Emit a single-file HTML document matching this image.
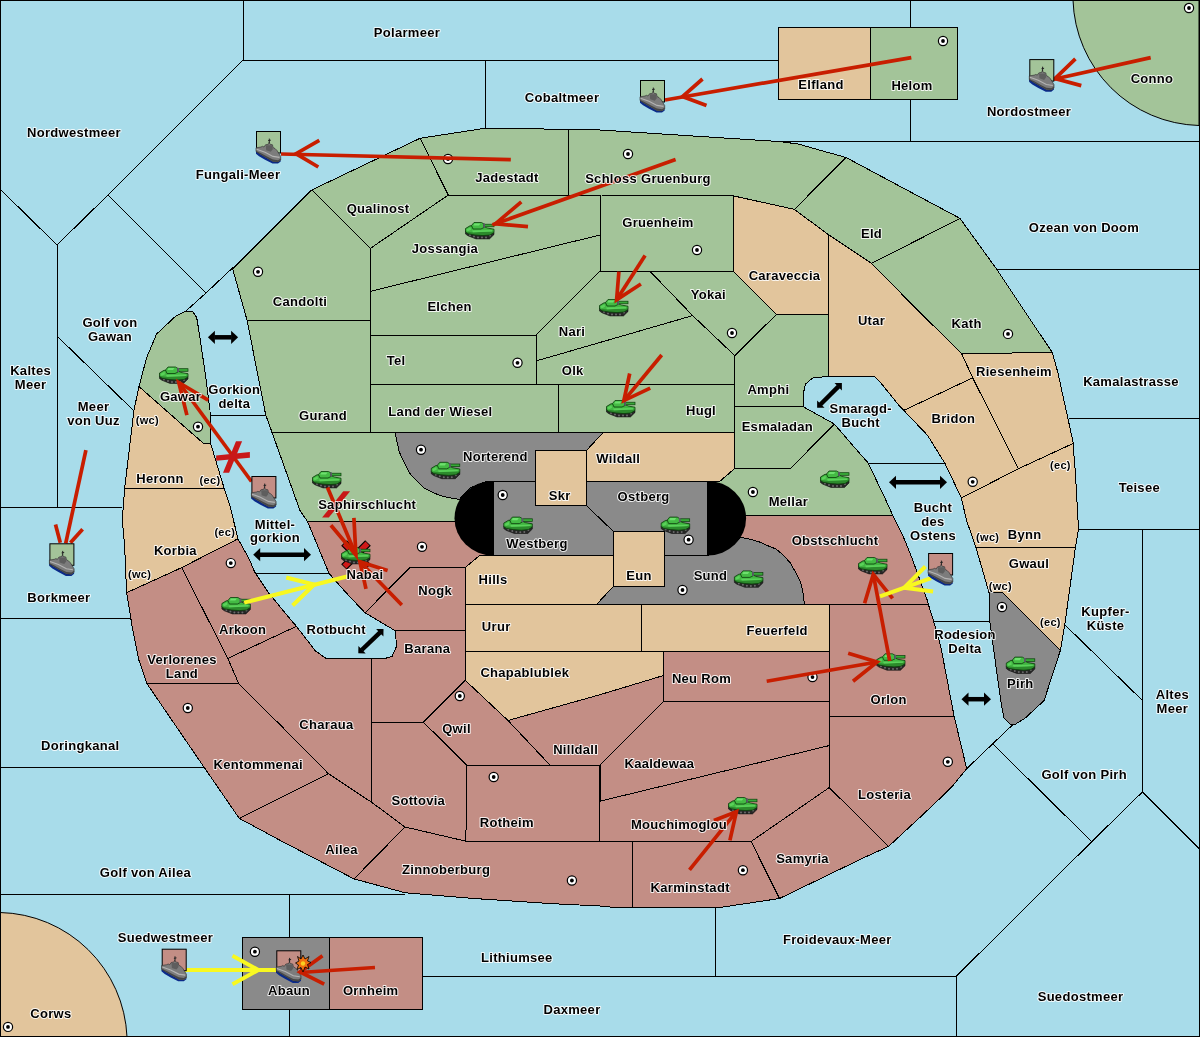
<!DOCTYPE html><html><head><meta charset="utf-8"><style>
html,body{margin:0;padding:0;background:#a8dcea;overflow:hidden}
svg{display:block;will-change:transform}
.t{font-family:"Liberation Sans",sans-serif;font-weight:bold;font-size:13px;letter-spacing:0.3px;text-anchor:middle;fill:#000;stroke:#fff;stroke-width:2px;stroke-opacity:0.85;paint-order:stroke;stroke-linejoin:round}
.c{font-family:"Liberation Sans",sans-serif;font-weight:bold;font-size:11px;letter-spacing:0.3px;text-anchor:middle;fill:#000;stroke:#fff;stroke-width:2px;stroke-opacity:0.85;paint-order:stroke;stroke-linejoin:round}
</style></head><body>
<svg width="1200" height="1037" viewBox="0 0 1200 1037">
<defs>
<g id="tank">
<polygon points="0.5,9.5 29,10.5 29,12.5 24.5,16.9 11,16.9 3,13.8 0.5,12" fill="#262626" stroke="#111" stroke-width="0.6"/>
<g fill="#6a6a6a"><circle cx="5" cy="13" r="1"/><circle cx="9" cy="14.4" r="1"/><circle cx="13" cy="15.4" r="1"/><circle cx="17" cy="15.6" r="1"/><circle cx="21" cy="15.4" r="1"/><circle cx="25" cy="13.4" r="1"/></g>
<polygon points="0.5,6.5 5,3.8 18,4 22,6 29,7.2 29,10.5 25,13 18,13.6 10,13 3,11.8 0.5,10" fill="#2c8a2c" stroke="#0b3d0b" stroke-width="0.8"/>
<polygon points="1,7 5,4.4 18,4.6 22,6.6 28.4,7.8 28.4,9.4 22,9.8 8,10.4 1,9.6" fill="#42b642"/>
<polygon points="7,8.4 27,8.1 27,9.4 8,10.2" fill="#5ad25a"/>
<polygon points="1.5,7.3 5.5,5.2 6,7.8 2.5,9.4" fill="#5ad25a"/>
<polygon points="6.5,3.5 9,0.5 16.5,0.5 19,2 19,5.5 16,7 8,7" fill="#44bb44" stroke="#0b3d0b" stroke-width="0.8"/>
<polygon points="9.5,1.4 15.5,1.4 14,3.6 8.5,3.6" fill="#6ee06e"/>
<rect x="19" y="2.2" width="10" height="2.6" fill="#38a838" stroke="#0b3d0b" stroke-width="0.7"/>
<rect x="18.2" y="1.4" width="1.8" height="4.2" fill="#5a5a66"/>
</g>
<g id="ship">
<polygon points="0,20.5 4,23 10,26.5 17,30.5 22,31 24.7,29 24.7,30.5 22,32.6 16.5,32.6 9,28.8 3,25.3 0,22.8" fill="#0a2a8a"/>
<polygon points="0,16.8 5,16 6.5,15.3 8,16 9.5,13.8 12.5,13.2 13,11.5 14,13.2 16.5,13.8 17,16.5 19,17.5 21,19.5 24.7,25.5 24.7,29 22,31 17,30.5 10,26.5 4,23 0,20.5" fill="#7c7c7c" stroke="#2a2a2a" stroke-width="0.6"/>
<polygon points="0,19.8 5,22.2 11,25.6 17,28.6 22,29.2 24.7,27.5 24.7,29 22,31 17,30.5 10,26.5 4,23 0,20.5" fill="#464646"/>
<path d="M0.6,18.2 L9,21.2 L17,25.4 L23.5,26.4" stroke="#b4b4b4" stroke-width="1.1" fill="none"/>
<polygon points="9.8,14.3 16.3,14.3 16.8,18.2 14.8,20.8 10.2,19.2" fill="#5e5e5e"/>
<path d="M13.3,12 L13.3,7.6 M12.2,9.6 L14.8,9.2" stroke="#222" stroke-width="1"/>
</g>
</defs>
<rect x="0" y="0" width="1200" height="1037" fill="#a8dcea"/>
<path d="M1073,0 A129.4,129.4 0 0 0 1199,125.5 L1199,0 Z" fill="#a3c499" stroke="#000" stroke-width="1"/>
<path d="M0,912.5 A130,130 0 0 1 127,1037 L0,1037 Z" fill="#e2c59c" stroke="#000" stroke-width="1"/>
<g stroke="#000" stroke-width="1" stroke-linejoin="round" shape-rendering="crispEdges">
<polygon points="311.7,190 420,138.3 448.3,195 370.5,248.3" fill="#a3c499"/>
<polygon points="420,138.3 485,128.3 568,129.3 568,195 448.3,195" fill="#a3c499"/>
<polygon points="568,129.3 600,130 780,141.6 798,144 846,157.5 794.4,209.4 733.5,195.9 600,195 568,195" fill="#a3c499"/>
<polygon points="232.7,269 311.7,190 370.5,248.3 370.5,320 247,320" fill="#a3c499"/>
<polygon points="370.5,248.3 448.3,195 600,195 600,235 370.5,291.3" fill="#a3c499"/>
<polygon points="370.5,291.3 600,235 600,271.3 536,335.2 370.5,335.2" fill="#a3c499"/>
<polygon points="600,195 733.5,195.9 733.5,271.3 600,271.3" fill="#a3c499"/>
<polygon points="536,335.2 600,271.3 650,271.3 692.7,315.6 536,361" fill="#a3c499"/>
<polygon points="650,271.3 733.5,271.3 776.4,314.4 734.8,355.7 692.7,315.6" fill="#a3c499"/>
<polygon points="370.5,335.2 536,335.2 536,384.6 370.5,384.6" fill="#a3c499"/>
<polygon points="536,361 692.7,315.6 734.8,355.7 734.8,384.7 536,384.7" fill="#a3c499"/>
<polygon points="370.5,384.6 558.6,384.6 558.6,432.4 370.5,432.4" fill="#a3c499"/>
<polygon points="558.6,384.7 734.8,384.7 734.8,432.4 558.6,432.4" fill="#a3c499"/>
<polygon points="247,320 370.5,320 370.5,432.4 272,432.4 269.4,425 265.7,415" fill="#a3c499"/>
<polygon points="734.8,355.7 776.4,314.4 828.3,314.4 828.3,376.5 813,377.8 805.5,384 803.5,392.8 803,406.6 734.8,406.6" fill="#a3c499"/>
<polygon points="734.8,406.6 803,406.6 834.3,424 790.5,468.5 734.8,468.5" fill="#a3c499"/>
<polygon points="734.8,468.5 790.5,468.5 834.3,424 850.6,443 868.2,463 885.8,500 892.6,515 745,515 707.6,515 707.6,481 720.2,481" fill="#a3c499"/>
<polygon points="846,157.5 960,218.4 871.5,263.4 828.3,234.6 794.4,209.4" fill="#a3c499"/>
<polygon points="960,218.4 996.5,269 1052.4,352.7 961.5,353.4 918,310.5 871.5,263.4" fill="#a3c499"/>
<polygon points="272,432.4 395.4,432.4 396.9,441.1 399.3,451.9 403.9,462 409.3,472.8 415.5,479.7 424,487.8 433.2,492.8 444,496.7 459.4,499.4 493,499 493,521.6 454,521.6 307.6,521.6 300,510.6" fill="#a3c499"/>
<polygon points="185.5,311.4 193,312 196.7,317.6 199.2,332.7 205.5,375.3 210,410.4 210.5,443 203,443 139,386.6 146.6,357.7 156.6,334 175.4,316.4" fill="#a3c499"/>
<polygon points="733.5,195.9 794.4,209.4 828.3,234.6 828.3,314.4 776.4,314.4 733.5,271.3" fill="#e2c59c"/>
<polygon points="828.3,234.6 871.5,263.4 918,310.5 961.5,353.4 972.7,377.8 903.8,410.4 900,406.6 880.7,382.8 874.4,376.5 828.3,376.5" fill="#e2c59c"/>
<polygon points="961.5,353.4 1052.4,352.7 1057.9,372.8 1073,441.7 1073,443.5 1018.3,468.8 972.7,377.8" fill="#e2c59c"/>
<polygon points="903.8,410.4 972.7,377.8 1018.3,468.8 961.4,498 945,463.5 927.6,435.4" fill="#e2c59c"/>
<polygon points="961.4,498 1018.3,468.8 1073,443.5 1075.4,473 1078,520 1078.4,529.3 1075.4,547.6 976,547.6 966.4,520" fill="#e2c59c"/>
<polygon points="976,547.6 1075.4,547.6 1065.4,620.3 1060.4,650.3 1002.8,592.7 989,592.7" fill="#e2c59c"/>
<polygon points="139,386.6 203,443 210.5,443 224.3,488.8 124.6,488.8 134,410" fill="#e2c59c"/>
<polygon points="124.6,488.8 224.3,488.8 230,505.9 238,538.8 181.7,567.6 126.6,592.7 124.6,545 122.3,520" fill="#e2c59c"/>
<polygon points="603,432.7 734.8,432.7 734.8,468.5 720.2,481 586.3,481 586.3,450.7" fill="#e2c59c"/>
<polygon points="465.3,567.5 479.6,555.5 613.5,555.5 613.5,586.2 596.7,604.3 465.3,604.3" fill="#e2c59c"/>
<polygon points="465.3,604.3 641.4,604.3 641.4,651 465.3,651" fill="#e2c59c"/>
<polygon points="465.3,651 663.9,651 663.9,675.4 600,694.7 508,720.5 465.3,680.4" fill="#e2c59c"/>
<polygon points="535,450.7 586.3,450.7 586.3,505.5 535,505.5" fill="#e2c59c"/>
<polygon points="613.5,531.5 664.2,531.5 664.2,586.2 613.5,586.2" fill="#e2c59c"/>
<polygon points="641.4,604.3 829.2,604.3 829.2,651 641.4,651" fill="#e2c59c"/>
<polygon points="307.6,521.6 454,521.6 493,521.6 493,555.5 479.6,555.5 465.3,567.5 410,567.5 365,612.8 345.9,592.5 329,573.4" fill="#c38e85"/>
<polygon points="410,567.5 465.3,567.5 465.3,630.8 395.4,630.8 365,612.8" fill="#c38e85"/>
<polygon points="395.4,630.8 465.3,630.8 465.3,680.4 423.4,722.2 371.8,722.2 371.8,658.9 383,658.9 392,656.6 396.5,646.5" fill="#c38e85"/>
<polygon points="465.3,680.4 508,720.5 549.9,765 466.7,765 423.4,722.2" fill="#c38e85"/>
<polygon points="508,720.5 600,694.7 663.9,675.4 663.9,701 600,765 549.9,765" fill="#c38e85"/>
<polygon points="600,765 663.9,701 829.2,701 829.2,745.6 600,801.3" fill="#c38e85"/>
<polygon points="663.9,651 829.2,651 829.2,701 663.9,701" fill="#c38e85"/>
<polygon points="466.7,765 599.5,765 599.5,841.2 465.9,841.2" fill="#c38e85"/>
<polygon points="599.5,801.3 829.2,745.6 829.2,787.6 751.1,841.5 599.5,841.5" fill="#c38e85"/>
<polygon points="632.6,841.5 751.1,841.5 779.5,898.5 717.8,907.8 642.6,907.8 632.6,907.5" fill="#c38e85"/>
<polygon points="354,878.9 405,827 465.9,841.2 632.6,841.5 632.6,907.5 612.5,907.3 600,906 550.6,903.6 475.4,898.6 405.3,892.8" fill="#c38e85"/>
<polygon points="751.1,841.5 829.2,787.6 888.6,846.4 864.2,857.5 779.5,898.5" fill="#c38e85"/>
<polygon points="829.2,716.2 954.1,716.2 966.7,768.7 953,785.4 940.8,797.6 919.7,817.6 888.6,846.4 829.2,787.6" fill="#c38e85"/>
<polygon points="829.2,604.3 928.3,604.3 933.1,619.6 940.8,646.6 954.1,716.2 829.2,716.2" fill="#c38e85"/>
<polygon points="707.6,515 745,515 892.6,515 904.1,538.6 911.9,557.9 927.3,600.3 928.3,604.3 804.4,604.3 802.9,591.7 800.6,582.5 796,573.2 790.6,563.2 782.8,554.7 775.9,548.9 769.7,546.6 760.5,542.3 750.4,539.3 740.8,537.3 707.6,537.3" fill="#c38e85"/>
<polygon points="371.8,722.2 423.4,722.2 466.7,765 465.9,841.2 405,827 371.8,802.4" fill="#c38e85"/>
<polygon points="238.6,683.4 227.8,658.4 296.4,626.3 315.5,651 326.8,658.9 371.8,658.9 371.8,802.4 328.4,773.7 283.1,727.8" fill="#c38e85"/>
<polygon points="181.7,567.6 238,538.8 249.1,558.8 254.8,572.3 268.3,592.5 289.6,618.4 296.4,626.3 227.8,658.4" fill="#c38e85"/>
<polygon points="126.6,592.7 181.7,567.6 227.8,658.4 238.6,683.4 147.1,683.9 139,660.4 132.8,630.3" fill="#c38e85"/>
<polygon points="147.1,683.9 238.6,683.4 283.1,727.8 328.4,773.7 239.2,818.3 205.2,768.9" fill="#c38e85"/>
<polygon points="239.2,818.3 328.4,773.7 371.8,802.4 405,827 354,878.9 281.7,841.2" fill="#c38e85"/>
<polygon points="395,432.4 603,432.7 586.3,450.7 535,450.7 535,481 487.5,481 470,488 459.4,499.4 444,496.7 433.2,492.8 424,487.8 415.5,479.7 409.3,472.8 403.9,462 399.3,451.9 396.9,441.1" fill="#8a8a8a"/>
<polygon points="664.2,555.5 707.6,555.5 725,550 740.8,537.3 750.4,539.3 760.5,542.3 769.7,546.6 775.9,548.9 782.8,554.7 790.6,563.2 796,573.2 800.6,582.5 802.9,591.7 804.4,604.3 596.7,604.3 613.5,586.2 664.2,586.2" fill="#8a8a8a"/>
<polygon points="989,592.7 1002.8,592.7 1060.4,650.3 1044.1,700.5 1025.3,718 1015.3,724.3 1010.3,724.3 1004,718 1001.5,705.5 996.5,670.4 989.7,620.3" fill="#8a8a8a"/>
<polygon points="493,481 535,481 535,505.5 586.3,505.5 613.5,531.5 613.5,555.5 493,555.5" fill="#8a8a8a"/>
<polygon points="586.3,481 707.6,481 707.6,555.5 664.2,555.5 664.2,531.5 613.5,531.5 586.3,505.5" fill="#8a8a8a"/>
</g>
<path d="M493,481 A38.5,37.25 0 0 0 493,555.5 Z" fill="#000"/>
<path d="M707.6,481 A38.5,37.25 0 0 1 707.6,555.5 Z" fill="#000"/>
<g fill="none" stroke="#000" stroke-width="1" shape-rendering="crispEdges">
<polyline points="243,0 243,60 778,60"/>
<polyline points="243,60 108,195 57,245"/>
<polyline points="0,189 57,245 57,507"/>
<polyline points="108,195 206,293"/>
<polyline points="185.5,311.4 206,293 233,267.5"/>
<polyline points="485,60 485,128.3"/>
<polyline points="910.5,0 910.5,141"/>
<polyline points="780,141.3 1199,141.3"/>
<polyline points="996.5,269.3 1199,269.3"/>
<polyline points="1069,418.4 1199,418.4"/>
<polyline points="1078.4,529.3 1199,529.3"/>
<polyline points="1142.4,529.3 1142.4,792"/>
<polyline points="1065.4,625.3 1142.4,700.5"/>
<polyline points="1091.7,841.7 1142.4,792 1199,848.4"/>
<polyline points="1013,724.5 992.7,743.8 966.7,768.7"/>
<polyline points="992.7,743.8 1091.7,841.7 956.4,976.2 956.4,1036"/>
<polyline points="422,976.2 956.4,976.2"/>
<polyline points="715.8,907.8 715.8,976.2"/>
<polyline points="0,894.8 405,894.8"/>
<polyline points="289.5,894.8 289.5,1036"/>
<polyline points="0,767.5 205.2,767.5"/>
<polyline points="0,618.2 131,618.2"/>
<polyline points="0,507 122.3,507"/>
<polyline points="57,336 134,411"/>
<polyline points="210.5,415.4 265.7,415.4"/>
<polyline points="254.8,573.4 329,573.4"/>
<polyline points="868.2,463.3 945,463.3"/>
<polyline points="934,621.5 989.7,621.5"/>
</g>
<rect x="778" y="27" width="92.0" height="72.0" fill="#e2c59c" stroke="#000" stroke-width="1" shape-rendering="crispEdges"/>
<rect x="870" y="27" width="87.6" height="72.0" fill="#a3c499" stroke="#000" stroke-width="1" shape-rendering="crispEdges"/>
<rect x="242.4" y="937.4" width="87.2" height="71.9" fill="#8a8a8a" stroke="#000" stroke-width="1" shape-rendering="crispEdges"/>
<rect x="329.6" y="937.4" width="92.4" height="71.9" fill="#c38e85" stroke="#000" stroke-width="1" shape-rendering="crispEdges"/>
<rect x="0.5" y="0.5" width="1199" height="1036" fill="none" stroke="#000" stroke-width="1"/>
<circle cx="943" cy="41" r="4.6" fill="#fff" stroke="#000" stroke-width="1.2"/><circle cx="943" cy="41" r="1.9" fill="#000"/>
<circle cx="1189" cy="8" r="4.6" fill="#fff" stroke="#000" stroke-width="1.2"/><circle cx="1189" cy="8" r="1.9" fill="#000"/>
<circle cx="448" cy="159" r="4.6" fill="#fff" stroke="#000" stroke-width="1.2"/><circle cx="448" cy="159" r="1.9" fill="#000"/>
<circle cx="628" cy="154" r="4.6" fill="#fff" stroke="#000" stroke-width="1.2"/><circle cx="628" cy="154" r="1.9" fill="#000"/>
<circle cx="697" cy="250" r="4.6" fill="#fff" stroke="#000" stroke-width="1.2"/><circle cx="697" cy="250" r="1.9" fill="#000"/>
<circle cx="258" cy="271.8" r="4.6" fill="#fff" stroke="#000" stroke-width="1.2"/><circle cx="258" cy="271.8" r="1.9" fill="#000"/>
<circle cx="732" cy="333" r="4.6" fill="#fff" stroke="#000" stroke-width="1.2"/><circle cx="732" cy="333" r="1.9" fill="#000"/>
<circle cx="517.5" cy="362.8" r="4.6" fill="#fff" stroke="#000" stroke-width="1.2"/><circle cx="517.5" cy="362.8" r="1.9" fill="#000"/>
<circle cx="1008" cy="333.9" r="4.6" fill="#fff" stroke="#000" stroke-width="1.2"/><circle cx="1008" cy="333.9" r="1.9" fill="#000"/>
<circle cx="198" cy="426.7" r="4.6" fill="#fff" stroke="#000" stroke-width="1.2"/><circle cx="198" cy="426.7" r="1.9" fill="#000"/>
<circle cx="421" cy="449.7" r="4.6" fill="#fff" stroke="#000" stroke-width="1.2"/><circle cx="421" cy="449.7" r="1.9" fill="#000"/>
<circle cx="502.7" cy="495" r="4.6" fill="#fff" stroke="#000" stroke-width="1.2"/><circle cx="502.7" cy="495" r="1.9" fill="#000"/>
<circle cx="688.6" cy="539.7" r="4.6" fill="#fff" stroke="#000" stroke-width="1.2"/><circle cx="688.6" cy="539.7" r="1.9" fill="#000"/>
<circle cx="752.9" cy="492" r="4.6" fill="#fff" stroke="#000" stroke-width="1.2"/><circle cx="752.9" cy="492" r="1.9" fill="#000"/>
<circle cx="972.7" cy="481.8" r="4.6" fill="#fff" stroke="#000" stroke-width="1.2"/><circle cx="972.7" cy="481.8" r="1.9" fill="#000"/>
<circle cx="422" cy="546.8" r="4.6" fill="#fff" stroke="#000" stroke-width="1.2"/><circle cx="422" cy="546.8" r="1.9" fill="#000"/>
<circle cx="230.8" cy="563.1" r="4.6" fill="#fff" stroke="#000" stroke-width="1.2"/><circle cx="230.8" cy="563.1" r="1.9" fill="#000"/>
<circle cx="682.5" cy="590" r="4.6" fill="#fff" stroke="#000" stroke-width="1.2"/><circle cx="682.5" cy="590" r="1.9" fill="#000"/>
<circle cx="1002" cy="607" r="4.6" fill="#fff" stroke="#000" stroke-width="1.2"/><circle cx="1002" cy="607" r="1.9" fill="#000"/>
<circle cx="812.5" cy="677.1" r="4.6" fill="#fff" stroke="#000" stroke-width="1.2"/><circle cx="812.5" cy="677.1" r="1.9" fill="#000"/>
<circle cx="459.8" cy="696" r="4.6" fill="#fff" stroke="#000" stroke-width="1.2"/><circle cx="459.8" cy="696" r="1.9" fill="#000"/>
<circle cx="187.8" cy="708" r="4.6" fill="#fff" stroke="#000" stroke-width="1.2"/><circle cx="187.8" cy="708" r="1.9" fill="#000"/>
<circle cx="947.8" cy="761.8" r="4.6" fill="#fff" stroke="#000" stroke-width="1.2"/><circle cx="947.8" cy="761.8" r="1.9" fill="#000"/>
<circle cx="493.7" cy="777" r="4.6" fill="#fff" stroke="#000" stroke-width="1.2"/><circle cx="493.7" cy="777" r="1.9" fill="#000"/>
<circle cx="571.9" cy="880.5" r="4.6" fill="#fff" stroke="#000" stroke-width="1.2"/><circle cx="571.9" cy="880.5" r="1.9" fill="#000"/>
<circle cx="742.9" cy="870.2" r="4.6" fill="#fff" stroke="#000" stroke-width="1.2"/><circle cx="742.9" cy="870.2" r="1.9" fill="#000"/>
<circle cx="254.9" cy="951.7" r="4.6" fill="#fff" stroke="#000" stroke-width="1.2"/><circle cx="254.9" cy="951.7" r="1.9" fill="#000"/>
<circle cx="8" cy="1026.9" r="4.6" fill="#fff" stroke="#000" stroke-width="1.2"/><circle cx="8" cy="1026.9" r="1.9" fill="#000"/>
<g stroke-linecap="butt"><path d="M344,543 L368,567 M368,543 L344,567" stroke="#000" stroke-width="8"/><path d="M344.5,543.5 L367.5,566.5 M367.5,543.5 L344.5,566.5" stroke="#d01818" stroke-width="5.5"/></g>
<use href="#tank" x="465" y="222"/>
<use href="#tank" x="599" y="299"/>
<use href="#tank" x="606" y="400"/>
<use href="#tank" x="820" y="470.5"/>
<use href="#tank" x="159" y="366.5"/>
<use href="#tank" x="430.8" y="461.8"/>
<use href="#tank" x="312" y="471"/>
<use href="#tank" x="503.3" y="516.6"/>
<use href="#tank" x="660.7" y="516.6"/>
<use href="#tank" x="733.9" y="570.4"/>
<use href="#tank" x="341" y="547"/>
<use href="#tank" x="221.4" y="597"/>
<use href="#tank" x="858" y="557"/>
<use href="#tank" x="876" y="653.3"/>
<use href="#tank" x="1005.8" y="656.6"/>
<use href="#tank" x="728" y="797"/>
<line x1="214.4" y1="337.3" x2="231.6" y2="337.3" stroke="#000" stroke-width="4.5"/><polygon points="238.1,337.3 231.1,343.9 231.1,330.7" fill="#000"/><polygon points="207.9,337.3 214.9,343.9 214.9,330.7" fill="#000"/>
<line x1="259.7" y1="554.7" x2="304.5" y2="554.7" stroke="#000" stroke-width="4.5"/><polygon points="311.0,554.7 304.0,561.3 304.0,548.1" fill="#000"/><polygon points="253.2,554.7 260.2,561.3 260.2,548.1" fill="#000"/>
<line x1="361.7" y1="650.0" x2="380.1" y2="632.3" stroke="#000" stroke-width="4.5"/><polygon points="383.5,629.0 383.4,636.4 376.1,628.9" fill="#000"/><polygon points="358.3,653.3 365.7,653.4 358.4,645.9" fill="#000"/>
<line x1="820.4" y1="404.5" x2="838.6" y2="386.4" stroke="#000" stroke-width="4.5"/><polygon points="841.9,383.1 841.9,390.5 834.5,383.1" fill="#000"/><polygon points="817.1,407.8 824.5,407.8 817.1,400.4" fill="#000"/>
<line x1="895.5" y1="482.3" x2="940.5" y2="482.3" stroke="#000" stroke-width="4.5"/><polygon points="947.0,482.3 940.0,488.9 940.0,475.7" fill="#000"/><polygon points="889.0,482.3 896.0,488.9 896.0,475.7" fill="#000"/>
<line x1="968.0" y1="699.2" x2="984.5" y2="699.2" stroke="#000" stroke-width="4.5"/><polygon points="991.0,699.2 984.0,705.8 984.0,692.6" fill="#000"/><polygon points="961.5,699.2 968.5,705.8 968.5,692.6" fill="#000"/>
<polyline points="510.8,159.6 281,154" fill="none" stroke="#c81e00" stroke-width="3.7" stroke-linejoin="miter" stroke-linecap="butt"/>
<polyline points="319.3,140.3 296,153.7 318.3,167" fill="none" stroke="#c81e00" stroke-width="3.7" stroke-linejoin="miter" stroke-linecap="butt"/>
<polyline points="911.3,57.6 665,100" fill="none" stroke="#c81e00" stroke-width="3.7" stroke-linejoin="miter" stroke-linecap="butt"/>
<polyline points="702.5,79 682.5,96.5 706.5,105.5" fill="none" stroke="#c81e00" stroke-width="3.7" stroke-linejoin="miter" stroke-linecap="butt"/>
<polyline points="1150.7,57.6 1053.8,79.2" fill="none" stroke="#c81e00" stroke-width="3.7" stroke-linejoin="miter" stroke-linecap="butt"/>
<polyline points="1075.4,58.8 1055,78.6 1081.3,85.6" fill="none" stroke="#c81e00" stroke-width="3.7" stroke-linejoin="miter" stroke-linecap="butt"/>
<polyline points="675.6,159.6 492.6,224.8" fill="none" stroke="#c81e00" stroke-width="3.7" stroke-linejoin="miter" stroke-linecap="butt"/>
<polyline points="521.3,201.8 495.5,223.8 528,226.7" fill="none" stroke="#c81e00" stroke-width="3.7" stroke-linejoin="miter" stroke-linecap="butt"/>
<polyline points="645.1,255.4 616.6,299.8" fill="none" stroke="#c81e00" stroke-width="3.7" stroke-linejoin="miter" stroke-linecap="butt"/>
<polyline points="618.9,271.6 616.6,299.8 640.9,284" fill="none" stroke="#c81e00" stroke-width="3.7" stroke-linejoin="miter" stroke-linecap="butt"/>
<polyline points="661.7,355 623.9,400.6" fill="none" stroke="#c81e00" stroke-width="3.7" stroke-linejoin="miter" stroke-linecap="butt"/>
<polyline points="629.7,373.5 623.9,400.6 650.2,388.2" fill="none" stroke="#c81e00" stroke-width="3.7" stroke-linejoin="miter" stroke-linecap="butt"/>
<polyline points="251.5,481.5 178.8,382.5" fill="none" stroke="#c81e00" stroke-width="3.7" stroke-linejoin="miter" stroke-linecap="butt"/>
<polyline points="186.9,415.1 178.8,382.5 208.2,400.1" fill="none" stroke="#c81e00" stroke-width="3.7" stroke-linejoin="miter" stroke-linecap="butt"/>
<polyline points="85.9,450.1 65.7,543.4" fill="none" stroke="#c81e00" stroke-width="3.7" stroke-linejoin="miter" stroke-linecap="butt"/>
<polyline points="55.5,524.5 60.3,542.7" fill="none" stroke="#c81e00" stroke-width="3.7" stroke-linejoin="miter" stroke-linecap="butt"/>
<polyline points="82.6,529.2 70.4,542.7" fill="none" stroke="#c81e00" stroke-width="3.7" stroke-linejoin="miter" stroke-linecap="butt"/>
<polyline points="327.5,487.5 355.9,555" fill="none" stroke="#c81e00" stroke-width="3.7" stroke-linejoin="miter" stroke-linecap="butt"/>
<polyline points="330.9,525.3 355.9,555 353.9,517.9" fill="none" stroke="#c81e00" stroke-width="3.7" stroke-linejoin="miter" stroke-linecap="butt"/>
<polyline points="401.8,605 359.9,561.8" fill="none" stroke="#c81e00" stroke-width="3.7" stroke-linejoin="miter" stroke-linecap="butt"/>
<polyline points="366,588.8 359.9,561.8 387.6,570.5" fill="none" stroke="#c81e00" stroke-width="3.7" stroke-linejoin="miter" stroke-linecap="butt"/>
<polyline points="766.7,681.2 877.1,662" fill="none" stroke="#c81e00" stroke-width="3.7" stroke-linejoin="miter" stroke-linecap="butt"/>
<polyline points="848.2,653.3 877.1,662 853,681.3" fill="none" stroke="#c81e00" stroke-width="3.7" stroke-linejoin="miter" stroke-linecap="butt"/>
<polyline points="889.7,661 873.3,574.3" fill="none" stroke="#c81e00" stroke-width="3.7" stroke-linejoin="miter" stroke-linecap="butt"/>
<polyline points="864.6,603.2 873.3,574.3 892.6,598.4" fill="none" stroke="#c81e00" stroke-width="3.7" stroke-linejoin="miter" stroke-linecap="butt"/>
<polyline points="689.5,869.9 736.4,811.7" fill="none" stroke="#c81e00" stroke-width="3.7" stroke-linejoin="miter" stroke-linecap="butt"/>
<polyline points="713.9,820.4 736.4,811.7 729.9,840.3" fill="none" stroke="#c81e00" stroke-width="3.7" stroke-linejoin="miter" stroke-linecap="butt"/>
<polyline points="244.2,602.6 348,576.3" fill="none" stroke="#f8f820" stroke-width="4.0" stroke-linejoin="miter" stroke-linecap="butt"/>
<polyline points="286.2,577.5 314.2,584.5 292.6,605.5" fill="none" stroke="#f8f820" stroke-width="4.0" stroke-linejoin="miter" stroke-linecap="butt"/>
<polyline points="931.1,578.1 880,596.4" fill="none" stroke="#f8f820" stroke-width="4.0" stroke-linejoin="miter" stroke-linecap="butt"/>
<polyline points="925.4,566.5 904.1,587.8 933.1,591.6" fill="none" stroke="#f8f820" stroke-width="4.0" stroke-linejoin="miter" stroke-linecap="butt"/>
<polyline points="185,970 276,970" fill="none" stroke="#f8f820" stroke-width="4.0" stroke-linejoin="miter" stroke-linecap="butt"/>
<polyline points="232.5,955.8 258.3,970 232.5,984.2" fill="none" stroke="#f8f820" stroke-width="4.0" stroke-linejoin="miter" stroke-linecap="butt"/>
<polygon points="216.1,455.4 249.9,452.1 249.9,457.8 216.1,460.8" fill="#c81818"/>
<polygon points="223,472.8 229.1,472.8 242.1,441.3 236,441.3" fill="#c81818"/>
<polygon points="322.1,517.6 328.8,517.6 350.1,491.3 343.3,491.3" fill="#c81818"/>
<rect x="256.5" y="131.5" width="24" height="21.5" fill="#a3c499" stroke="#000" stroke-width="1"/>
<use href="#ship" x="256" y="131"/>
<rect x="640.5" y="80.5" width="24" height="21.5" fill="#a3c499" stroke="#000" stroke-width="1"/>
<use href="#ship" x="640" y="80"/>
<rect x="1029.8" y="59.6" width="24" height="21.5" fill="#a3c499" stroke="#000" stroke-width="1"/>
<use href="#ship" x="1029.3" y="59.1"/>
<rect x="49.9" y="543.8" width="24" height="21.5" fill="#a3c499" stroke="#000" stroke-width="1"/>
<use href="#ship" x="49.4" y="543.3"/>
<rect x="251.9" y="476.5" width="24" height="21.5" fill="#c38e85" stroke="#000" stroke-width="1"/>
<use href="#ship" x="251.4" y="476"/>
<rect x="928.6" y="553.5" width="24" height="21.5" fill="#c38e85" stroke="#000" stroke-width="1"/>
<use href="#ship" x="928.1" y="553"/>
<rect x="162.2" y="949.2" width="24" height="21.5" fill="#c38e85" stroke="#000" stroke-width="1"/>
<use href="#ship" x="161.7" y="948.7"/>
<rect x="276.8" y="950.8" width="24" height="21.5" fill="#c38e85" stroke="#000" stroke-width="1"/>
<use href="#ship" x="276.3" y="950.3"/>
<polyline points="375,967.5 300,972.5" fill="none" stroke="#c81e00" stroke-width="3.7" stroke-linejoin="miter" stroke-linecap="butt"/>
<polyline points="322.5,955.8 300,972 324.2,984.2" fill="none" stroke="#c81e00" stroke-width="3.7" stroke-linejoin="miter" stroke-linecap="butt"/>
<polygon points="303,955 305,959 309,956.5 307.5,961 311,962.5 307.5,964.5 309,969 305,967 303,972 301,967.5 297,969.5 298.5,965 295.5,963 299,961 297.5,956.5 301,959" fill="#f07010" stroke="#000" stroke-width="0.8"/>
<circle cx="303" cy="963.5" r="2.2" fill="#f8d020"/>
<text x="407" y="37.3" class="t">Polarmeer</text>
<text x="562" y="101.7" class="t">Cobaltmeer</text>
<text x="74" y="137.1" class="t">Nordwestmeer</text>
<text x="238" y="178.7" class="t">Fungali-Meer</text>
<text x="1029" y="116.2" class="t">Nordostmeer</text>
<text x="1152" y="82.7" class="t">Conno</text>
<text x="1084" y="231.7" class="t">Ozean von Doom</text>
<text x="110" y="327.4" class="t">Golf von</text>
<text x="110" y="341.2" class="t">Gawan</text>
<text x="30.6" y="375.0" class="t">Kaltes</text>
<text x="30.6" y="388.8" class="t">Meer</text>
<text x="93.5" y="411.3" class="t">Meer</text>
<text x="93.5" y="425.1" class="t">von Uuz</text>
<text x="234.3" y="394.3" class="t">Gorkion</text>
<text x="234.3" y="408.1" class="t">delta</text>
<text x="1131" y="385.5" class="t">Kamalastrasse</text>
<text x="1139.3" y="491.5" class="t">Teisee</text>
<text x="860.7" y="413.3" class="t">Smaragd-</text>
<text x="860.7" y="427.1" class="t">Bucht</text>
<text x="933" y="512.4" class="t">Bucht</text>
<text x="933" y="526.2" class="t">des</text>
<text x="933" y="540.0" class="t">Ostens</text>
<text x="275" y="528.6" class="t">Mittel-</text>
<text x="275" y="542.4" class="t">gorkion</text>
<text x="58.9" y="602.4" class="t">Borkmeer</text>
<text x="336.2" y="634.3" class="t">Rotbucht</text>
<text x="1105.5" y="616.2" class="t">Kupfer-</text>
<text x="1105.5" y="630.0" class="t">Küste</text>
<text x="965" y="639.1" class="t">Rodesion</text>
<text x="965" y="652.9" class="t">Delta</text>
<text x="1172.4" y="699.4" class="t">Altes</text>
<text x="1172.4" y="713.2" class="t">Meer</text>
<text x="80.2" y="750.3" class="t">Doringkanal</text>
<text x="1084.2" y="779.1" class="t">Golf von Pirh</text>
<text x="145.4" y="876.9" class="t">Golf von Ailea</text>
<text x="165.4" y="942.1" class="t">Suedwestmeer</text>
<text x="516.8" y="962.2" class="t">Lithiumsee</text>
<text x="837.3" y="944.1" class="t">Froidevaux-Meer</text>
<text x="1080.5" y="1001.0" class="t">Suedostmeer</text>
<text x="572" y="1013.7" class="t">Daxmeer</text>
<text x="50.9" y="1018.0" class="t">Corws</text>
<text x="821" y="88.7" class="t">Elfland</text>
<text x="912" y="89.7" class="t">Helom</text>
<text x="507" y="181.7" class="t">Jadestadt</text>
<text x="648" y="182.7" class="t">Schloss Gruenburg</text>
<text x="378" y="212.7" class="t">Qualinost</text>
<text x="658" y="226.7" class="t">Gruenheim</text>
<text x="871.5" y="238.1" class="t">Eld</text>
<text x="445" y="252.7" class="t">Jossangia</text>
<text x="784.5" y="280.1" class="t">Caraveccia</text>
<text x="300" y="306.2" class="t">Candolti</text>
<text x="708.3" y="299.0" class="t">Yokai</text>
<text x="449.6" y="311.1" class="t">Elchen</text>
<text x="871.5" y="325.1" class="t">Utar</text>
<text x="966.6" y="327.8" class="t">Kath</text>
<text x="572" y="336.1" class="t">Nari</text>
<text x="396" y="365.0" class="t">Tel</text>
<text x="572.7" y="375.0" class="t">Olk</text>
<text x="1014" y="376.2" class="t">Riesenheim</text>
<text x="768.4" y="394.3" class="t">Amphi</text>
<text x="180.5" y="401.3" class="t">Gawar</text>
<text x="701" y="415.1" class="t">Hugl</text>
<text x="440.4" y="415.7" class="t">Land der Wiesel</text>
<text x="323" y="419.7" class="t">Gurand</text>
<text x="953.4" y="423.1" class="t">Bridon</text>
<text x="777.3" y="431.0" class="t">Esmaladan</text>
<text x="495.4" y="461.1" class="t">Norterend</text>
<text x="618.3" y="462.7" class="t">Wildall</text>
<text x="160" y="483.2" class="t">Heronn</text>
<text x="559.7" y="499.7" class="t">Skr</text>
<text x="643.6" y="500.7" class="t">Ostberg</text>
<text x="788.4" y="506.3" class="t">Mellar</text>
<text x="367.2" y="508.8" class="t">Saphirschlucht</text>
<text x="537" y="548.3" class="t">Westberg</text>
<text x="175.4" y="555.3" class="t">Korbia</text>
<text x="1024.6" y="538.5" class="t">Bynn</text>
<text x="1029" y="568.1" class="t">Gwaul</text>
<text x="835" y="545.3" class="t">Obstschlucht</text>
<text x="365" y="579.2" class="t">Nabai</text>
<text x="493.1" y="584.1" class="t">Hills</text>
<text x="638.9" y="579.5" class="t">Eun</text>
<text x="710.5" y="579.8" class="t">Sund</text>
<text x="435.2" y="595.2" class="t">Nogk</text>
<text x="496.2" y="631.2" class="t">Urur</text>
<text x="777.2" y="635.0" class="t">Feuerfeld</text>
<text x="242.6" y="634.2" class="t">Arkoon</text>
<text x="427.3" y="653.4" class="t">Barana</text>
<text x="182" y="664.4" class="t">Verlorenes</text>
<text x="182" y="678.2" class="t">Land</text>
<text x="524.8" y="676.8" class="t">Chapablublek</text>
<text x="701.5" y="683.3" class="t">Neu Rom</text>
<text x="1020.3" y="688.1" class="t">Pirh</text>
<text x="888.6" y="703.6" class="t">Orlon</text>
<text x="326.4" y="729.3" class="t">Charaua</text>
<text x="456.5" y="732.9" class="t">Qwil</text>
<text x="575.7" y="754.0" class="t">Nilldall</text>
<text x="659.4" y="768.3" class="t">Kaaldewaa</text>
<text x="258.2" y="769.4" class="t">Kentommenai</text>
<text x="884.6" y="799.0" class="t">Losteria</text>
<text x="418.3" y="805.4" class="t">Sottovia</text>
<text x="506.8" y="827.3" class="t">Rotheim</text>
<text x="679" y="829.3" class="t">Mouchimoglou</text>
<text x="341.6" y="854.4" class="t">Ailea</text>
<text x="802.5" y="863.2" class="t">Samyria</text>
<text x="446.1" y="873.7" class="t">Zinnoberburg</text>
<text x="690.2" y="892.0" class="t">Karminstadt</text>
<text x="289" y="994.7" class="t">Abaun</text>
<text x="370.7" y="995.2" class="t">Ornheim</text>
<text x="147.4" y="423.6" class="c">(wc)</text>
<text x="210" y="483.8" class="c">(ec)</text>
<text x="224.8" y="535.8" class="c">(ec)</text>
<text x="139.6" y="578.4" class="c">(wc)</text>
<text x="1060.4" y="468.8" class="c">(ec)</text>
<text x="987.7" y="541.0" class="c">(wc)</text>
<text x="1000.3" y="589.7" class="c">(wc)</text>
<text x="1050.4" y="625.5" class="c">(ec)</text>
</svg></body></html>
